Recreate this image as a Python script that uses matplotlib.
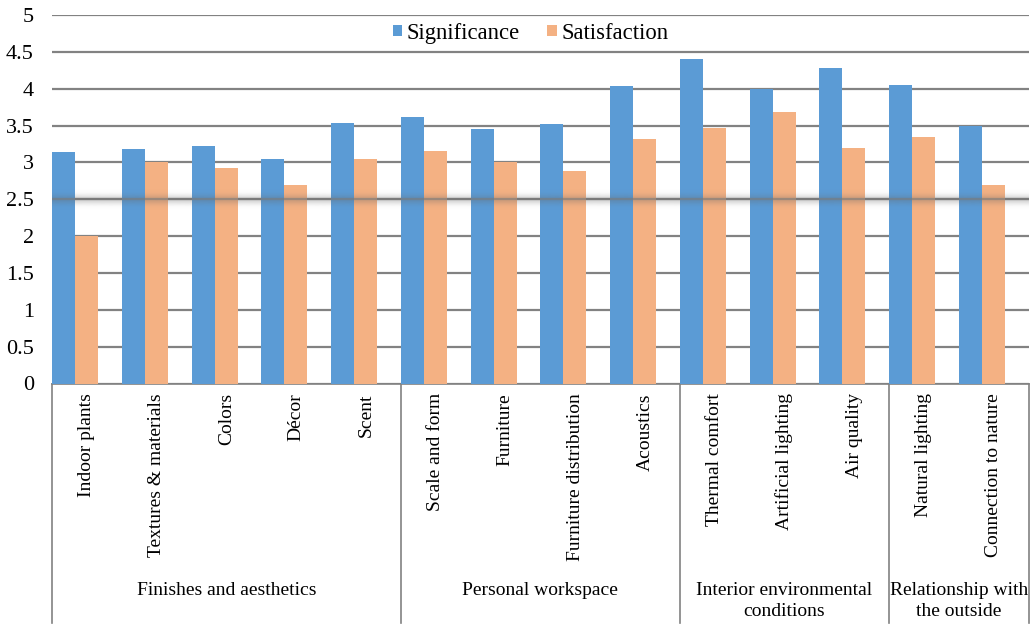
import numpy as np
import matplotlib
matplotlib.use("Agg")
import matplotlib.pyplot as plt
from matplotlib.lines import Line2D
from matplotlib.transforms import blended_transform_factory

categories = ["Indoor plants", "Textures & materials", "Colors", "Décor", "Scent",
              "Scale and form", "Furniture", "Furniture distribution", "Acoustics",
              "Thermal comfort", "Artificial lighting", "Air quality",
              "Natural lighting", "Connection to nature"]
significance = [3.14, 3.18, 3.22, 3.05, 3.53, 3.62, 3.45, 3.52, 4.04,
                4.40, 4.00, 4.28, 4.05, 3.50]
satisfaction = [2.00, 3.00, 2.93, 2.69, 3.05, 3.16, 3.00, 2.89, 3.32,
                3.47, 3.69, 3.20, 3.35, 2.70]
groups = ["Finishes and aesthetics", "Personal workspace",
          "Interior environmental\nconditions", "Relationship with\nthe outside"]
group_sizes = [5, 4, 3, 2]
series_names = ["Significance", "Satisfaction"]

BLUE = "#5B9BD5"
ORANGE = "#F4B183"
GRID = "#828282"

plt.rcParams["font.family"] = ["Liberation Serif", "DejaVu Serif"]
plt.rcParams["font.size"] = 14

fig = plt.figure(figsize=(10.30, 6.26), dpi=100)
ax = fig.add_axes([52 / 1030, 1 - 383.5 / 626, (1028.5 - 52) / 1030, (383.5 - 15) / 626])

x = np.arange(len(categories))
w = 0.33
ax.bar(x + w / 2, significance, width=w, color=BLUE, zorder=3, label=series_names[0])
ax.bar(x + 1.5 * w, satisfaction, width=w, color=ORANGE, zorder=3, label=series_names[1])

ax.set_xlim(0, len(categories))
ax.set_ylim(0, 5)
yticks = np.arange(0, 5.01, 0.5)
ax.set_yticks(yticks)
ax.set_yticklabels([f"{v:g}" for v in yticks])
ax.yaxis.grid(True, color=GRID, linewidth=1.6, zorder=0)
ax.set_axisbelow(True)
for side in ["top", "right", "left"]:
    ax.spines[side].set_visible(False)
ax.spines["bottom"].set_color(GRID)
ax.spines["bottom"].set_linewidth(1.2)
ax.tick_params(axis="y", length=0, pad=13, labelsize=16)

ax.set_xticks(x + 0.5)
ax.set_xticklabels(categories, rotation=90, va="top", ha="center")
ax.tick_params(axis="x", length=0, pad=7, labelsize=14)

# soft glow around the 2.5 reference line, drawn over the bars
glow_y = np.linspace(2.36, 2.64, 80)
glow = np.exp(-((glow_y - 2.5) / 0.065) ** 2)
rgba = np.zeros((len(glow_y), 1, 4))
rgba[..., :3] = 0.4
rgba[:, 0, 3] = 0.28 * glow
ax.imshow(rgba, extent=(0, len(categories), 2.36, 2.64), origin="lower",
          aspect="auto", zorder=4, interpolation="bilinear")
ax.axhline(2.5, color="#7a7a7a", linewidth=1.6, alpha=0.6, zorder=5)
ax.set_ylim(0, 5)
ax.set_xlim(0, len(categories))

# group separators and group labels beneath the category labels
trans = blended_transform_factory(ax.transData, ax.transAxes)
bounds = np.concatenate([[0], np.cumsum(group_sizes)])
for b in bounds:
    ax.add_line(Line2D([b, b], [0, -0.65], transform=trans, color=GRID,
                       linewidth=1.2, clip_on=False))
for g, lo, hi in zip(groups, bounds[:-1], bounds[1:]):
    ax.text((lo + hi) / 2, -0.538, g, transform=trans, ha="center", va="top",
            fontsize=14, linespacing=1.3)

ax.legend(loc="center", bbox_to_anchor=(0.49, 0.951), ncol=2, frameon=False,
          handlelength=0.42, handleheight=0.42, handletextpad=0.2,
          columnspacing=1.2, fontsize=16.3, borderaxespad=0)

fig.savefig("out.png", dpi=100, facecolor="white")
